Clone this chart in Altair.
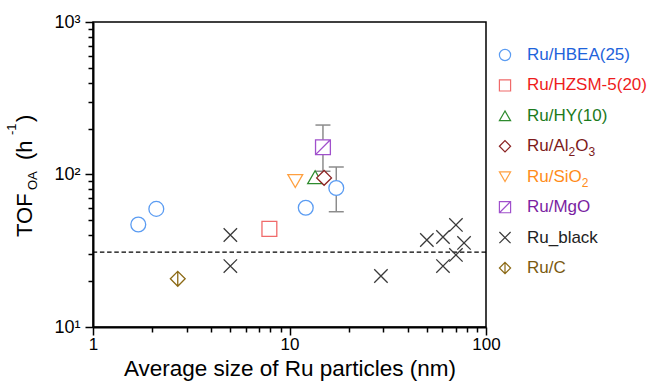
import altair as alt
import pandas as pd

FONT = "Liberation Sans"

# ---- categories / legend ----
categories = ["Ru/HBEA(25)", "Ru/HZSM-5(20)", "Ru/HY(10)", "Ru/Al₂O₃",
              "Ru/SiO₂", "Ru/MgO", "Ru_black", "Ru/C"]
# legend label pieces: main text, then (text, is_subscript) pieces that follow
legend_main = ["Ru/HBEA(25)", "Ru/HZSM-5(20)", "Ru/HY(10)", "Ru/Al",
               "Ru/Si", "Ru/MgO", "Ru_black", "Ru/C"]
legend_tails = {
    "Ru/Al₂O₃": [("2", True), ("O", False), ("3", True)],
    "Ru/SiO₂": [("O", False), ("2", True)],
}
marker_colors = ["#5b9cf2", "#f06a6a", "#2e8b2e", "#8b2323",
                 "#ffa040", "#a050cc", "#3a3a3a", "#8b6914"]
text_colors = ["#1e63db", "#ee1c1c", "#1c7a1c", "#7d1a1a",
               "#ff8c1a", "#7b1fa2", "#222222", "#7a5a10"]
shapes = ["circle", "square", "triangle-up", "diamond", "triangle-down",
          "M-1,-1L1,-1L1,1L-1,1Z M-1,1L1,-1",
          "M-1,-1L1,1M-1,1L1,-1",
          "M0,-1L1,0L0,1L-1,0Z M0,-1L0,1"]

# ---- series values (particle size nm, TOF h^-1) ----
hbea_size = [1.7, 2.1, 12.1, 17.3]
hbea_tof = [47, 59.5, 60.5, 81.5]
hzsm_size = [7.9]
hzsm_tof = [44]
hy_size = [13.5]
hy_tof = [96]
al2o3_size = [15.0]
al2o3_tof = [95]
sio2_size = [10.7]
sio2_tof = [90.5]
mgo_size = [14.8]
mgo_tof = [151]
black_size = [5.0, 5.0, 29.2, 50, 60.4, 70.3, 77.3, 70.3, 60.4]
black_tof = [40.1, 25.1, 21.6, 37.2, 38.9, 46.7, 35.6, 29.7, 25.1]
ruc_size = [2.7]
ruc_tof = [20.7]

# error bars
err_size = [14.8, 17.3]
err_lo = [105, 57]
err_hi = [211, 112]

# dashed reference level
ref_level = [31]

series = [hbea_size, hzsm_size, hy_size, al2o3_size, sio2_size, mgo_size, black_size, ruc_size]
series_y = [hbea_tof, hzsm_tof, hy_tof, al2o3_tof, sio2_tof, mgo_tof, black_tof, ruc_tof]

rows = []
for i, cat in enumerate(categories):
    for xv, yv in zip(series[i], series_y[i]):
        rows.append({"cat": cat, "size": xv, "tof": yv,
                     "stroke": marker_colors[i], "shape": shapes[i],
                     "msize": 180 if cat == "Ru_black" else 220})
pts = pd.DataFrame(rows)

leg = pd.DataFrame({"cat": categories, "label": legend_main, "stroke": marker_colors,
                    "tcol": text_colors, "shape": shapes,
                    "msize": [125 for c in categories]})

err = pd.DataFrame({"size": err_size, "lo": err_lo, "hi": err_hi})
caps = pd.DataFrame({"size": err_size + err_size, "v": err_lo + err_hi})
ref = pd.DataFrame({"y": ref_level})

xscale = alt.Scale(type="log", domain=[1, 100])
yscale = alt.Scale(type="log", domain=[10, 1000])

x_ticks = [m * 10 ** e for e in range(2) for m in range(1, 10)] + [100]
y_ticks = [m * 10 ** e for e in range(1, 3) for m in range(1, 10)] + [1000]
major = "indexof([1,10,100,1000], datum.value) >= 0"

xaxis = alt.Axis(
    title="Average size of Ru particles (nm)", values=x_ticks,
    labelExpr="datum.value == 1 ? '1' : datum.value == 10 ? '10' : datum.value == 100 ? '100' : ''",
    tickSize={"condition": {"test": major, "value": 8}, "value": 5},
    labelPadding=1, titlePadding=5, labelFlush=False, labelOverlap=False,
    labelFontSize=17, titleFontSize=22.5,
)
yaxis = alt.Axis(
    title="", values=y_ticks,
    labelExpr="datum.value == 10 ? '10¹' : datum.value == 100 ? '10²' : datum.value == 1000 ? '10³' : ''",
    tickSize={"condition": {"test": major, "value": 8}, "value": 5},
    labelPadding=5, labelFlush=False, labelOverlap=False, labelFontSize=18,
)

GRAY = "#8c8c8c"

errbar = alt.Chart(err).mark_rule(color=GRAY, strokeWidth=1.5).encode(
    x=alt.X("size:Q", scale=xscale, axis=xaxis),
    y=alt.Y("lo:Q", scale=yscale, axis=yaxis),
    y2="hi:Q",
)
errcap = alt.Chart(caps).mark_point(
    shape="M-1,0L1,0", size=225, filled=False, strokeWidth=1.5, color=GRAY, opacity=1
).encode(x=alt.X("size:Q", scale=xscale), y=alt.Y("v:Q", scale=yscale))

dash = alt.Chart(ref).mark_rule(color="black", strokeWidth=1.3, strokeDash=[4.5, 2.7]).encode(
    y=alt.Y("y:Q", scale=yscale)
)

points = alt.Chart(pts).mark_point(filled=True, opacity=1, strokeWidth=1.3).encode(
    x=alt.X("size:Q", scale=xscale),
    y=alt.Y("tof:Q", scale=yscale),
    stroke=alt.Stroke("stroke:N", scale=None),
    fill=alt.value("white"),
    shape=alt.Shape("shape:N", scale=None),
    size=alt.Size("msize:Q", scale=None),
)

main = alt.layer(errbar, errcap, dash, points)

ly = alt.Y("cat:N", sort=categories, axis=None,
           scale=alt.Scale(domain=categories, range=[33, 246], padding=0))
leg_sym = alt.Chart(leg).mark_point(filled=True, opacity=1, strokeWidth=1.2).encode(
    x=alt.value(412), y=ly,
    stroke=alt.Stroke("stroke:N", scale=None),
    fill=alt.value("white"),
    shape=alt.Shape("shape:N", scale=None),
    size=alt.Size("msize:Q", scale=None),
)
LEG_X = 434
LEG_FS = 17
leg_txt = alt.Chart(leg).mark_text(align="left", baseline="middle", fontSize=LEG_FS, font=FONT).encode(
    x=alt.value(LEG_X), y=ly, text="label:N",
    color=alt.Color("tcol:N", scale=None),
)

# approximate Liberation Sans advance widths (em) for the subscripted legend labels
ADV = {"R": 0.722, "u": 0.556, "/": 0.278, "A": 0.667, "l": 0.222, "S": 0.667,
       "i": 0.222, "O": 0.778, "2": 0.556, "3": 0.556}
SUB_FS = 12


def tail_layers(cat, main_text, tails, color):
    layers = []
    off = sum(ADV[c] for c in main_text) * LEG_FS
    d = pd.DataFrame({"cat": [cat]})
    for txt, sub in tails:
        fs = SUB_FS if sub else LEG_FS
        layers.append(
            alt.Chart(d).mark_text(align="left", baseline="middle", fontSize=fs, font=FONT,
                                   color=color, dy=6 if sub else 0).encode(
                x=alt.value(LEG_X + off), y=ly)
            .encode(text=alt.value(txt))
        )
        off += ADV[txt] * fs
    return layers


tails = []
for i, cat in enumerate(categories):
    if cat in legend_tails:
        tails += tail_layers(cat, legend_main[i], legend_tails[cat], text_colors[i])

one = pd.DataFrame({"a": [0]})


def ytitle(txt, x, y, fs):
    return alt.Chart(one).mark_text(angle=270, align="left", baseline="alphabetic",
                                    fontSize=fs, font=FONT, color="black").encode(
        x=alt.value(x), y=alt.value(y), text=alt.value(txt))


titles = [
    ytitle("TOF", -61, 215, 22),
    ytitle("OA", -56, 168, 13),
    ytitle("(h", -61, 138, 22),
    ytitle("-1", -77, 113, 13),
    ytitle(")", -61, 100, 22),
]

legend = alt.layer(leg_sym, leg_txt, *tails, *titles)

chart = alt.layer(main, legend).resolve_scale(y="independent").properties(
    width=393, height=305,
    autosize=alt.AutoSizeParams(type="none"),
    padding={"left": 93, "top": 22, "right": 166, "bottom": 57},
).configure_view(
    stroke="black", strokeWidth=1.5
).configure_axis(
    domainColor="black", domainWidth=2, tickColor="black", tickWidth=1.5,
    labelFont=FONT, labelColor="black", grid=False,
    titleFont=FONT, titleFontWeight="normal", titleColor="black",
)

chart.save("out.html", embed_options={"renderer": "svg", "actions": False})
